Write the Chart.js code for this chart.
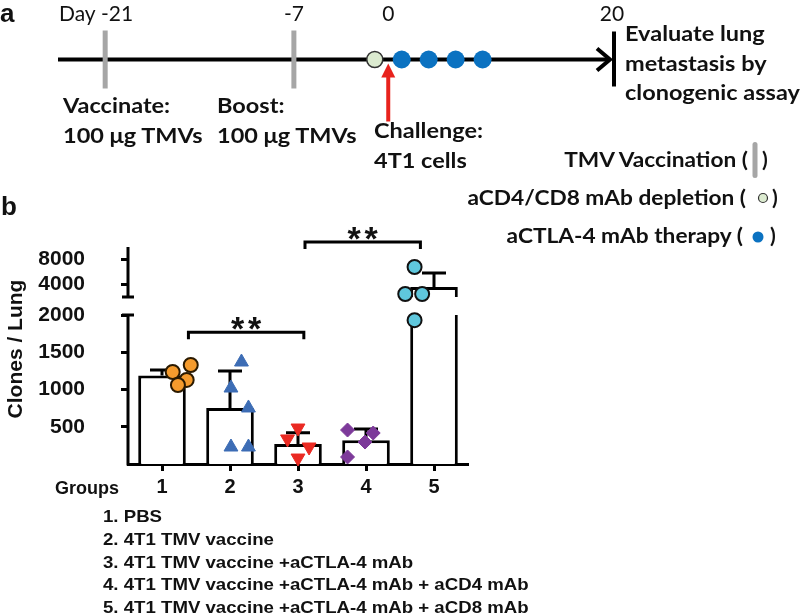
<!DOCTYPE html>
<html>
<head>
<meta charset="utf-8">
<script src="https://cdn.jsdelivr.net/npm/chart.js@4.4.0/dist/chart.umd.min.js"></script>
<style>
  html, body { margin: 0; padding: 0; background: #fff; }
  #wrap { position: relative; width: 800px; height: 616px; overflow: hidden; }
  canvas, svg { position: absolute; left: 0; top: 0; }
  .cal { font-family: Lato, 'Open Sans', sans-serif; font-weight: bold; fill: #111; }
  .ari { font-family: 'Liberation Sans', Arial, sans-serif; font-weight: bold; fill: #111; }
</style>
</head>
<body>
<div id="wrap">
  <canvas id="timeline" width="800" height="180"></canvas>
  <canvas id="bars" width="800" height="616"></canvas>
  <svg id="labels" width="800" height="616">
    <rect x="752.5" y="142" width="5" height="36" rx="2.5" fill="#a6a6a6"></rect>
    <circle cx="763" cy="198" r="4.5" fill="#dcebd0" stroke="#333" stroke-width="1.2"></circle>
    <circle cx="758" cy="237" r="5.5" fill="#0b72c1"></circle>
  </svg>
</div>
<script>
// ---- panel a: treatment schedule (days) ----
const vaccineDays = [-21, -7];
const depletionDays = [-1];
const therapyDays = [1, 3, 5, 7];
const challengeDay = 0;
const endDay = 20;
const dayTicks = [-21, -7, 0, 20];

// ---- panel b: clones per lung ----
const groups = ['1', '2', '3', '4', '5'];
const groupNames = ['PBS', '4T1 TMV vaccine', '4T1 TMV vaccine +aCTLA-4 mAb',
  '4T1 TMV vaccine +aCTLA-4 mAb + aCD4 mAb', '4T1 TMV vaccine +aCTLA-4 mAb + aCD8 mAb'];
const means = [1188, 752, 270, 320, 3600];
const sds = [75, 495, 150, 150, 2240];
const pointValues = [
  [1235, 1329, 1128, 1060],
  [1369, 1020, 752, 228, 228],
  [483, 336, 228, 80],
  [456, 416, 295, 94],
  [6800, 2480, 2480, 1930]
];
const pointOffsets = [
  [-0.15, 0.16, 0.09, -0.06],
  [0.03, -0.15, 0.15, -0.15, 0.15],
  [0, -0.18, 0.19, 0],
  [-0.15, 0.29, 0.15, -0.15],
  [0, -0.16, 0.13, 0]
];
const lowerTicks = [500, 1000, 1500, 2000];
const upperTicks = [4000, 8000];
const breakAt = 2000;
const upperMax = 10000;
const sigPairs = [[1, 3], [3, 5]];
const sigLevels = [1770, 10800];
const sigLabels = ['**', '**'];

const arial = "'Liberation Sans', Arial, sans-serif";
const lato = "Lato, 'Open Sans', sans-serif";

// svg text helper (the source figure is slightly stretched horizontally)
const svg = document.getElementById('labels');
function label(x, y, text, cls, size, anchor, sx) {
  const t = document.createElementNS('http://www.w3.org/2000/svg', 'text');
  t.setAttribute('class', cls);
  t.setAttribute('font-size', size);
  t.setAttribute('text-anchor', anchor || 'start');
  t.setAttribute('transform', 'translate(' + x + ',' + y + ') scale(' + (sx || 1) + ',1)');
  t.textContent = text;
  svg.appendChild(t);
  return t;
}

const S = 1.12;
label(0, 22, 'a', 'ari', 26);
label(63, 113, 'Vaccinate:', 'cal', 21, 'start', S);
label(63, 143, '100 μg TMVs', 'cal', 21, 'start', S);
label(217, 113, 'Boost:', 'cal', 21, 'start', S);
label(217, 143, '100 μg TMVs', 'cal', 21, 'start', S);
label(374, 138, 'Challenge:', 'cal', 21, 'start', S);
label(374, 168, '4T1 cells', 'cal', 21, 'start', S);
label(625, 41, 'Evaluate lung', 'cal', 21, 'start', S);
label(625, 71, 'metastasis by', 'cal', 21, 'start', S);
label(625, 100, 'clonogenic assay', 'cal', 21, 'start', S);
label(748, 167, 'TMV Vaccination (', 'cal', 21, 'end', 1.08);
label(762, 167, ')', 'cal', 21);
label(746, 205, 'aCD4/CD8 mAb depletion (', 'cal', 21, 'end', 1.08);
label(772, 205, ')', 'cal', 21);
label(743, 243, 'aCTLA-4 mAb therapy (', 'cal', 21, 'end', 1.08);
label(770, 243, ')', 'cal', 21);

label(1, 215, 'b', 'ari', 26);
const yt = label(0, 0, 'Clones / Lung', 'ari', 21, 'middle');
yt.setAttribute('transform', 'translate(22,349) rotate(-90)');
label(55, 494, 'Groups', 'ari', 18);
groupNames.forEach((name, i) => {
  label(103, 522 + i * 22.8, groups[i] + '. ' + name, 'ari', 16.5, 'start', 1.13);
});

// ---------- timeline ----------
const timelineDecor = {
  id: 'timelineDecor',
  beforeDatasetsDraw(chart) {
    const { ctx, chartArea } = chart;
    const xs = chart.scales.x, ys = chart.scales.y;
    const y0 = ys.getPixelForValue(0);
    const right = chartArea.right;
    ctx.save();
    ctx.strokeStyle = '#000';
    ctx.lineWidth = 4;
    ctx.beginPath();
    ctx.moveTo(chartArea.left, y0);
    ctx.lineTo(right - 2, y0);
    ctx.stroke();
    // arrow head
    ctx.beginPath();
    ctx.moveTo(right - 15, y0 - 11);
    ctx.lineTo(right - 2, y0);
    ctx.lineTo(right - 15, y0 + 11);
    ctx.stroke();
    // end marker (evaluation day)
    const xe = Math.min(xs.getPixelForValue(endDay), right) + 2;
    ctx.beginPath();
    ctx.moveTo(xe, y0 - 28);
    ctx.lineTo(xe, y0 + 27);
    ctx.stroke();
    // challenge arrow
    const xc = xs.getPixelForValue(challengeDay);
    ctx.strokeStyle = ctx.fillStyle = '#e8221c';
    ctx.beginPath();
    ctx.moveTo(xc, y0 + 62);
    ctx.lineTo(xc, y0 + 16);
    ctx.stroke();
    ctx.beginPath();
    ctx.moveTo(xc, y0 + 4);
    ctx.lineTo(xc - 7, y0 + 18);
    ctx.lineTo(xc + 7, y0 + 18);
    ctx.closePath();
    ctx.fill();
    // day labels
    ctx.fillStyle = '#111';
    ctx.font = '21px ' + lato;
    ctx.textBaseline = 'alphabetic';
    dayTicks.forEach((d, i) => {
      const x = Math.min(xs.getPixelForValue(d), right);
      if (i === 0) {
        ctx.textAlign = 'right';
        ctx.fillText('Day ' + d, x + 28, 21);
      } else {
        ctx.textAlign = 'center';
        ctx.fillText(String(d), x, 21);
      }
    });
    ctx.restore();
  }
};

const onLine = days => days.map(d => ({ x: d, y: 0 }));

new Chart(document.getElementById('timeline'), {
  type: 'scatter',
  data: {
    datasets: [
      { data: onLine(vaccineDays), pointStyle: 'line', pointRotation: 90, pointRadius: 29,
        pointBorderWidth: 5, pointBorderColor: '#a6a6a6', pointBackgroundColor: '#a6a6a6' },
      { data: onLine(depletionDays), pointStyle: 'circle', pointRadius: 8,
        pointBorderWidth: 1.5, pointBorderColor: '#333', pointBackgroundColor: '#dcebd0' },
      { data: onLine(therapyDays), pointStyle: 'circle', pointRadius: 9,
        pointBorderWidth: 0, pointBackgroundColor: '#0b72c1', pointBorderColor: '#0b72c1' }
    ]
  },
  options: {
    responsive: false,
    animation: false,
    layout: { padding: { left: 58, right: 188, top: 25, bottom: 95 } },
    plugins: { legend: { display: false }, tooltip: { enabled: false } },
    datasets: { scatter: { clip: false } },
    scales: {
      x: { type: 'linear', display: false, min: -24.5, max: 16.6 },
      y: { type: 'linear', display: false, min: -1, max: 1 }
    }
  },
  plugins: [timelineDecor]
});

// ---------- bar chart ----------
const markers = [
  { style: 'circle', rot: 0, r: 7, fill: '#f59b2d', edge: '#2b1a00', bw: 2 },
  { style: 'triangle', rot: 0, r: 8, fill: '#3d6db5', edge: '#3d6db5', bw: 1 },
  { style: 'triangle', rot: 180, r: 8, fill: '#ea2a23', edge: '#ea2a23', bw: 1 },
  { style: 'rectRot', rot: 0, r: 7, fill: '#7d3a9a', edge: '#7d3a9a', bw: 1 },
  { style: 'circle', rot: 0, r: 7, fill: '#5fc7dd', edge: '#111', bw: 2 }
];

const scatterSets = [];
pointValues.forEach((vals, g) => {
  const low = [], high = [];
  vals.forEach((v, k) => {
    const pt = { x: g + 1 + pointOffsets[g][k], y: v };
    (v > breakAt ? high : low).push(pt);
  });
  const m = markers[g];
  [[low, 'y'], [high, 'yTop']].forEach(([pts, axis]) => {
    if (!pts.length) return;
    scatterSets.push({
      type: 'scatter', data: pts, xAxisID: 'xs', yAxisID: axis, order: 0, clip: false,
      pointStyle: m.style, pointRotation: m.rot, pointRadius: m.r,
      pointBackgroundColor: m.fill, pointBorderColor: m.edge, pointBorderWidth: m.bw
    });
  });
});

const errorBars = {
  id: 'errorBars',
  beforeDatasetsDraw(chart) {
    const { ctx } = chart;
    const xs = chart.scales.x;
    ctx.save();
    ctx.strokeStyle = '#000';
    ctx.lineWidth = 3;
    means.forEach((m, i) => {
      const sc = m > breakAt ? chart.scales.yTop : chart.scales.y;
      const x = xs.getPixelForValue(i);
      const y0 = sc.getPixelForValue(m);
      const y1 = sc.getPixelForValue(m + sds[i]);
      ctx.beginPath();
      ctx.moveTo(x, y0);
      ctx.lineTo(x, y1);
      ctx.moveTo(x - 12, y1);
      ctx.lineTo(x + 12, y1);
      ctx.stroke();
    });
    ctx.restore();
  }
};

const brokenAxis = {
  id: 'brokenAxis',
  afterDraw(chart) {
    const { ctx, chartArea } = chart;
    const yl = chart.scales.y, yu = chart.scales.yTop, xs = chart.scales.xs;
    const x = chartArea.left;
    ctx.save();
    ctx.strokeStyle = '#000';
    ctx.lineWidth = 3;
    const topA = yu.getPixelForValue(upperMax), topB = yu.getPixelForValue(breakAt);
    const lowA = yl.getPixelForValue(breakAt), lowB = yl.getPixelForValue(0) + 1.5;
    ctx.beginPath();
    ctx.moveTo(x, topA); ctx.lineTo(x, topB);
    ctx.moveTo(x - 6, topB); ctx.lineTo(x + 6, topB);
    ctx.moveTo(x, lowA); ctx.lineTo(x, lowB);
    ctx.moveTo(x - 6, lowA); ctx.lineTo(x + 6, lowA);
    ctx.stroke();

    // significance brackets
    sigPairs.forEach(([a, b], i) => {
      const sc = sigLevels[i] > breakAt ? yu : yl;
      const y = sc.getPixelForValue(sigLevels[i]);
      const x1 = xs.getPixelForValue(a + 0.12);
      const x2 = xs.getPixelForValue(b + 0.1);
      ctx.beginPath();
      ctx.moveTo(x1, y + 7); ctx.lineTo(x1, y); ctx.lineTo(x2, y); ctx.lineTo(x2, y + 7);
      ctx.stroke();
      ctx.fillStyle = '#111';
      ctx.font = 'bold 34px ' + arial;
      ctx.textAlign = 'center';
      ctx.textBaseline = 'alphabetic';
      const cx = (x1 + x2) / 2;
      const stars = sigLabels[i].split('');
      stars.forEach((s, k) => {
        ctx.fillText(s, cx + (k - (stars.length - 1) / 2) * 17, y + 8);
      });
    });
    ctx.restore();
  }
};

const tickFont = { family: arial, size: 21, weight: 'bold' };

new Chart(document.getElementById('bars'), {
  type: 'bar',
  data: {
    labels: groups,
    datasets: [
      ...scatterSets,
      {
        type: 'bar', data: means.map(v => Math.min(v, breakAt)), xAxisID: 'x', yAxisID: 'y', order: 1,
        backgroundColor: '#fff', borderColor: '#000', borderSkipped: 'start',
        borderWidth: c => means[c.dataIndex] > breakAt ? { left: 3, right: 3, top: 0, bottom: 0 } : 3,
        barPercentage: 0.7, categoryPercentage: 1, grouped: false
      },
      {
        type: 'bar', data: means.map(v => v > breakAt ? [breakAt, v] : null), xAxisID: 'x', yAxisID: 'yTop', order: 1,
        backgroundColor: '#fff', borderColor: '#000', borderSkipped: 'start', borderWidth: 3,
        barPercentage: 0.7, categoryPercentage: 1, grouped: false
      }
    ]
  },
  options: {
    responsive: false,
    animation: false,
    layout: { padding: { left: 0, right: 332, top: 247, bottom: 112 } },
    plugins: { legend: { display: false }, tooltip: { enabled: false } },
    scales: {
      x: {
        type: 'category', offset: true,
        grid: { display: true, drawOnChartArea: false, offset: false, tickLength: 7, tickWidth: 3, color: '#000' },
        border: { display: true, width: 3, color: '#000' },
        ticks: { font: { family: arial, size: 20, weight: 'bold' }, color: '#111', padding: 4 },
        afterFit: s => { s.height = 40; }
      },
      xs: { type: 'linear', display: false, min: 0.5, max: 5.5 },
      yTop: {
        type: 'linear', position: 'left', stack: 'v', stackWeight: 68, weight: 2,
        min: -880, max: upperMax,
        border: { display: false },
        grid: { display: true, drawOnChartArea: false, tickLength: 7, tickWidth: 3, color: '#000' },
        ticks: { font: tickFont, color: '#111', padding: 36, callback: v => String(v) },
        afterBuildTicks: s => { s.ticks = upperTicks.map(v => ({ value: v })); },
        afterFit: s => { s.width = 128; }
      },
      y: {
        type: 'linear', position: 'left', stack: 'v', stackWeight: 149, weight: 1,
        min: 0, max: breakAt,
        border: { display: false },
        grid: { display: true, drawOnChartArea: false, tickLength: 7, tickWidth: 3, color: '#000' },
        ticks: { font: tickFont, color: '#111', padding: 36, callback: v => String(v) },
        afterBuildTicks: s => { s.ticks = lowerTicks.map(v => ({ value: v })); },
        afterFit: s => { s.width = 128; }
      }
    }
  },
  plugins: [errorBars, brokenAxis]
});
</script>
</body>
</html>
